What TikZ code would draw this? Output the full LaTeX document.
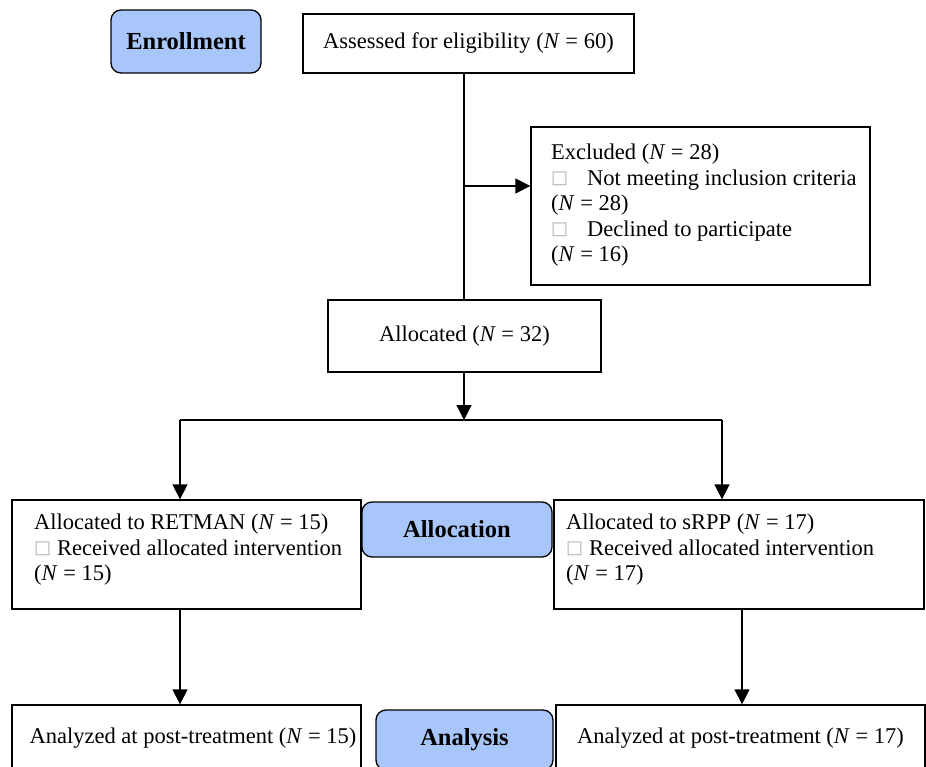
\documentclass[tikz,border=0pt]{standalone}
\usepackage{fontspec}
\setmainfont{Liberation Serif}
\newfontfamily\dejavu{DejaVu Sans}
\usetikzlibrary{arrows.meta}
\definecolor{stageblue}{RGB}{168,198,250}
\newcommand\sqmark{\raisebox{2pt}{\dejavu\fontsize{18pt}{18pt}\selectfont\textcolor{gray!60}{□}}}
\begin{document}
\begin{tikzpicture}[x=1pt,y=-1pt,
  font=\fontsize{22.5pt}{25.5pt}\selectfont,
  box/.style={draw, line width=1.3pt, rectangle, inner sep=0pt},
  stage/.style={draw, line width=1.3pt, rounded corners=10pt, fill=stageblue,
    font=\fontsize{24.5pt}{25.5pt}\selectfont\bfseries, inner sep=0pt},
  txt/.style={anchor=north west, align=left, inner sep=0pt},
  ln/.style={line width=1.3pt},
  arr/.style={line width=1.3pt, -{Triangle[length=15pt,width=15pt]}}]
\clip (0,0) rectangle (926,767);
\fill[white] (0,0) rectangle (926,767);
% stage labels
\node[stage, minimum width=150pt, minimum height=63pt] (enr) at (186,41.5) {Enrollment};
\node[stage, minimum width=190pt, minimum height=55pt] (alc) at (457,529.5) {Allocation};
\node[stage, minimum width=177pt, minimum height=60pt] (ana) at (464.5,740) {Analysis};
% boxes
\node[box, minimum width=331pt, minimum height=59pt] (assess) at (468.5,43.5) {Assessed for eligibility (\textit{N} = 60)};
\node[box, minimum width=339pt, minimum height=158pt] (excl) at (700.5,206) {};
\node[txt] (excltxt) at (551,144) {Excluded (\textit{N} = 28)\\
\makebox[36pt][l]{\sqmark}Not meeting inclusion criteria\\
(\textit{N} = 28)\\
\makebox[36pt][l]{\sqmark}Declined to participate\\
(\textit{N} = 16)};
\node[box, minimum width=273pt, minimum height=72pt] (alloc) at (464.5,336) {Allocated (\textit{N} = 32)};
\node[box, minimum width=349pt, minimum height=109pt] (retman) at (186.5,554.5) {};
\node[txt] (retmantxt) at (34,514) {Allocated to RETMAN (\textit{N} = 15)\\
\makebox[23pt][l]{\sqmark}Received allocated intervention\\
(\textit{N} = 15)};
\node[box, minimum width=370pt, minimum height=109pt] (srpp) at (739,554.5) {};
\node[txt] (srpptxt) at (566,514) {Allocated to sRPP (\textit{N} = 17)\\
\makebox[23pt][l]{\sqmark}Received allocated intervention\\
(\textit{N} = 17)};
\node[box, minimum width=349pt, minimum height=66pt] (anl) at (186.5,738) {\hspace*{13pt}Analyzed at post-treatment (\textit{N} = 15)};
\node[box, minimum width=369pt, minimum height=66pt] (anr) at (740.5,738) {Analyzed at post-treatment (\textit{N} = 17)};
% connectors
\coordinate (j) at (464,186);
\coordinate (split) at (464,420);
\coordinate (hl) at (180,420);
\coordinate (hr) at (722,420);
\coordinate (br) at (742,609);
\draw[ln] (assess.south -| j) -- (alloc.north -| j);
\draw[arr] (j) -- (excl.west |- j);
\draw[arr] (alloc.south -| split) -- (split);
\draw[ln] (hl) -- (hr);
\draw[arr] (hl) -- (retman.north -| hl);
\draw[arr] (hr) -- (srpp.north -| hr);
\draw[arr] (retman.south -| hl) -- (anl.north -| hl);
\draw[arr] (srpp.south -| br) -- (anr.north -| br);
\end{tikzpicture}
\end{document}
